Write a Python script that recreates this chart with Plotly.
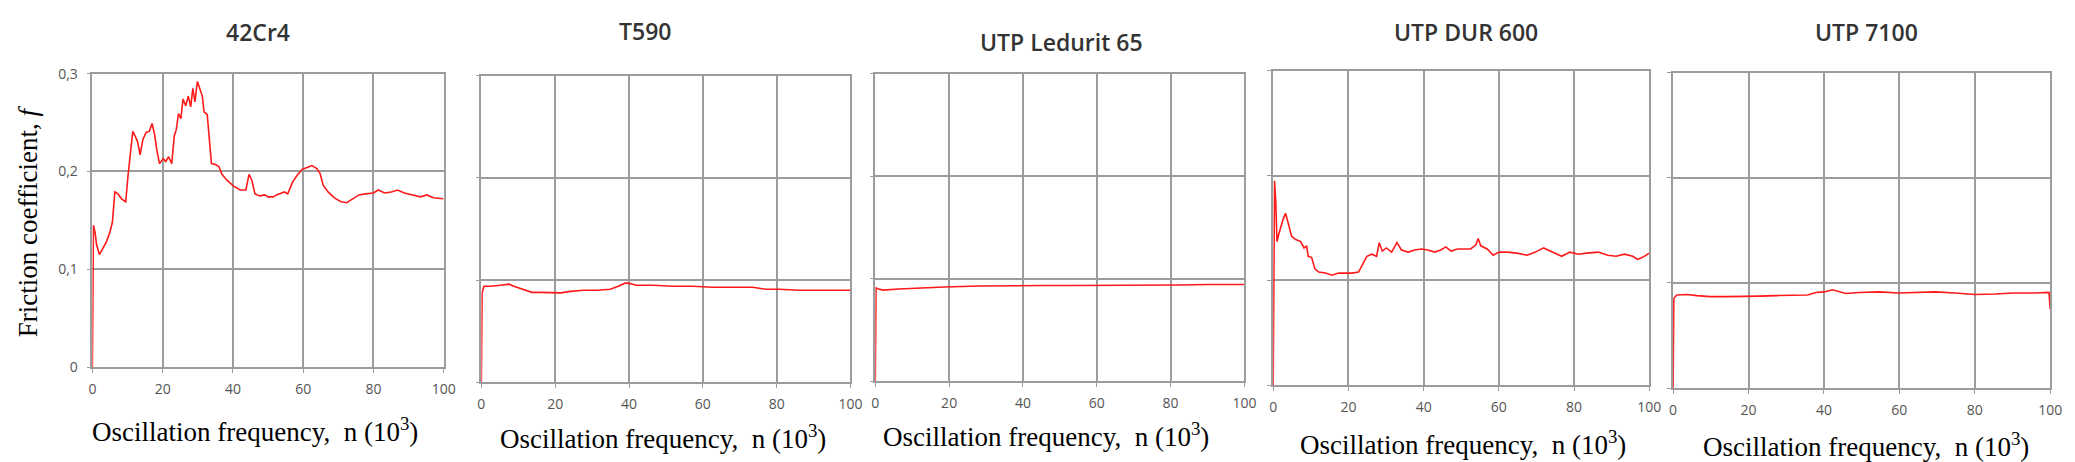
# Friction coefficient vs oscillation frequency, five coatings side by side
import plotly.graph_objects as go

W, H = 2075, 462

titles = ['42Cr4', 'T590', 'UTP Ledurit 65', 'UTP DUR 600', 'UTP 7100']

# 42Cr4
n_42cr4 = [0, 0.3, 0.75, 1.2, 2.0, 3.1, 4.0, 5.0, 5.7, 6.4, 7.3, 8.3, 9.5, 10.1, 10.8, 11.5,
           12.3, 12.9, 13.6, 14.4, 15.3, 16.2, 17.0, 17.7, 18.3, 19.1, 20.2, 20.9, 21.7, 22.6,
           23.3, 23.9, 24.5, 25.2, 25.8, 26.6, 27.3, 28.0, 28.6, 29.2, 29.9, 30.5, 31.3, 31.8,
           32.7, 33.3, 33.9, 35.0, 36.0, 36.9, 38.3, 40.2, 42.1, 43.7, 44.6, 45.4, 46.3, 47.7,
           49.1, 50.0, 51.5, 52.4, 54.7, 55.6, 57.0, 58.3, 59.7, 61.1, 62.5, 63.9, 64.8, 65.7,
           67.1, 68.9, 70.8, 72.4, 74.0, 75.9, 77.7, 80.0, 81.4, 83.2, 85.1, 86.9, 88.8, 91.1,
           93.4, 95.2, 97.1, 100]
f_42cr4 = [0, 0.145, 0.138, 0.125, 0.115, 0.122, 0.128, 0.138, 0.148, 0.179, 0.177, 0.172,
           0.169, 0.194, 0.220, 0.241, 0.235, 0.230, 0.217, 0.233, 0.240, 0.241, 0.249, 0.238,
           0.223, 0.208, 0.213, 0.210, 0.215, 0.208, 0.236, 0.243, 0.259, 0.254, 0.274, 0.267,
           0.277, 0.266, 0.285, 0.271, 0.292, 0.285, 0.277, 0.261, 0.258, 0.233, 0.208, 0.207,
           0.205, 0.197, 0.191, 0.185, 0.181, 0.181, 0.197, 0.191, 0.177, 0.175, 0.176, 0.174,
           0.174, 0.176, 0.179, 0.177, 0.189, 0.196, 0.202, 0.204, 0.206, 0.203, 0.198, 0.186,
           0.179, 0.173, 0.169, 0.168, 0.172, 0.176, 0.177, 0.178, 0.181, 0.178, 0.179, 0.181,
           0.178, 0.176, 0.174, 0.176, 0.173, 0.172]

# T590
n_t590 = [0, 0.2, 0.7, 2.5, 5.2, 7.5, 8.8, 11.1, 13.7, 16, 18.7, 21.4, 24.1, 27.7, 31.3, 34.9,
          37.1, 38.9, 39.8, 42, 46.5, 51.9, 57.3, 62.7, 68.1, 73.5, 77.1, 80.7, 86.1, 92.4, 100]
f_t590 = [0, 0.0875, 0.094, 0.094, 0.095, 0.096, 0.094, 0.091, 0.088, 0.088, 0.088, 0.0875,
          0.089, 0.090, 0.090, 0.091, 0.094, 0.097, 0.097, 0.095, 0.095, 0.094, 0.094, 0.093,
          0.093, 0.093, 0.091, 0.091, 0.090, 0.090, 0.090]

# UTP Ledurit 65
n_led = [0, 0.2, 0.9, 2.2, 6.3, 11.6, 18.8, 27.8, 36.7, 45.7, 54.6, 63.6, 72.5, 81.5, 90.4, 100]
f_led = [0, 0.091, 0.090, 0.089, 0.090, 0.091, 0.092, 0.093, 0.0935, 0.0935, 0.0935, 0.0935,
         0.094, 0.094, 0.0945, 0.0945]

# UTP DUR 600
n_dur = [0, 0.1, 0.35, 0.7, 1.0, 1.4, 2.0, 2.6, 3.3, 4.0, 4.9, 6.0, 7.3, 8.2, 8.9, 9.3, 10.2,
         11.1, 12.1, 13.9, 15.6, 17.4, 19.1, 20.9, 22.7, 23.8, 24.9, 26.2, 27.5, 28.2, 29.0,
         30.1, 31.5, 32.9, 34.1, 35.9, 37.6, 39.4, 41.1, 42.9, 44.6, 45.9, 47.3, 49.0, 50.8,
         52.5, 53.9, 54.5, 55.2, 56.9, 58.5, 60.0, 62.2, 64.8, 67.5, 69.7, 71.9, 74.1, 76.7,
         78.9, 81.1, 83.3, 86.4, 89.0, 91.2, 93.4, 95.6, 96.9, 98.2, 100]
f_dur = [0, 0.107, 0.195, 0.174, 0.137, 0.143, 0.152, 0.158, 0.164, 0.155, 0.142, 0.139,
         0.137, 0.131, 0.133, 0.123, 0.122, 0.111, 0.108, 0.107, 0.105, 0.107, 0.107, 0.107,
         0.108, 0.116, 0.123, 0.125, 0.123, 0.136, 0.128, 0.131, 0.127, 0.136, 0.129, 0.127,
         0.129, 0.130, 0.129, 0.127, 0.129, 0.132, 0.128, 0.130, 0.130, 0.130, 0.134, 0.140,
         0.133, 0.130, 0.124, 0.127, 0.127, 0.126, 0.124, 0.127, 0.131, 0.127, 0.123, 0.127,
         0.125, 0.126, 0.127, 0.124, 0.123, 0.125, 0.123, 0.120, 0.122, 0.126]

# UTP 7100
n_7100 = [0, 0.2, 1.0, 3.7, 6.3, 9.8, 14.2, 18.6, 23.0, 27.4, 31.8, 35.7, 37.9, 40.1, 42.3,
          44.0, 45.8, 49.3, 54.6, 59.8, 65.1, 69.5, 74.7, 80, 85.3, 90.5, 95.8, 99.7, 100]
f_7100 = [0, 0.0855, 0.0885, 0.089, 0.088, 0.087, 0.087, 0.087, 0.0875, 0.088, 0.088, 0.0885,
          0.091, 0.0915, 0.0935, 0.0915, 0.090, 0.091, 0.0915, 0.0905, 0.091, 0.0915, 0.0905,
          0.089, 0.0895, 0.0905, 0.0905, 0.091, 0.075]

xticks = [0, 20, 40, 60, 80, 100]
yticks = [0, 0.1, 0.2, 0.3]
ytick_text = ['0', '0,1', '0,2', '0,3']

series = [(n_42cr4, f_42cr4), (n_t590, f_t590), (n_led, f_led), (n_dur, f_dur), (n_7100, f_7100)]

# plot boxes in pixels: left, right, top, bottom
boxes = [(81, 435, 58, 364), (473, 845, 60, 380), (870, 1242, 58, 379),
         (1271, 1650, 55, 383), (1674, 2054, 57, 386)]
title_pos = [(248, 15), (638, 14), (1058, 25), (1465, 15), (1869, 15)]
xlabel_pos = [(245, 430), (656, 437), (1042, 435), (1462, 443), (1868, 445)]

grid = '#9c9c9c'
fig = go.Figure()
layout = dict(width=W, height=H, margin=dict(l=0, r=0, t=0, b=0),
              paper_bgcolor='white', plot_bgcolor='white', showlegend=False)
annotations = []

for i, ((xs, ys), (l, r, t, b)) in enumerate(zip(series, boxes)):
    k = '' if i == 0 else str(i + 1)
    fig.add_trace(go.Scatter(x=xs, y=ys, mode='lines', xaxis='x' + k, yaxis='y' + k,
                             line=dict(color='#ff1a1a', width=1.6)))
    layout['xaxis' + k] = dict(domain=[l / W, r / W], anchor='y' + k, range=[0, 100],
                               tickvals=xticks, showgrid=True, gridcolor=grid, gridwidth=1.5,
                               showline=True, mirror=True, linecolor=grid, linewidth=1.5,
                               ticks='outside', ticklen=4, tickcolor=grid, ticklabelstandoff=4,
                               zeroline=False, tickfont=dict(family='Open Sans', size=14, color='#555'))
    layout['yaxis' + k] = dict(domain=[1 - b / H, 1 - t / H], anchor='x' + k, range=[0, 0.3],
                               tickvals=yticks, ticktext=ytick_text, showticklabels=(i == 0),
                               showgrid=True, gridcolor=grid, gridwidth=1.5,
                               showline=True, mirror=True, linecolor=grid, linewidth=1.5,
                               ticks='outside', ticklen=4, tickcolor=grid, ticklabelstandoff=6,
                               zeroline=False, tickfont=dict(family='Open Sans', size=14, color='#555'))
    tx, ty = title_pos[i]
    annotations.append(dict(text=titles[i], x=tx / W, y=1 - ty / H, xref='paper', yref='paper',
                            showarrow=False, xanchor='center', yanchor='middle',
                            font=dict(family='Open Sans', size=23, color='#333', weight=600)))
    lx, ly = xlabel_pos[i]
    annotations.append(dict(text='Oscillation frequency,  n (10<sup>3</sup>)', x=lx / W,
                            y=1 - ly / H, xref='paper', yref='paper', showarrow=False,
                            xanchor='center', yanchor='middle',
                            font=dict(family='Liberation Serif', size=27, color='black')))

annotations.append(dict(text='Friction coefficient, <i>f</i>', x=16 / W, y=1 - 212 / H,
                        xref='paper', yref='paper', showarrow=False, textangle=-90,
                        xanchor='center', yanchor='middle',
                        font=dict(family='Liberation Serif', size=27, color='black')))
layout['annotations'] = annotations
fig.update_layout(**layout)

fig.write_html("out.html")
